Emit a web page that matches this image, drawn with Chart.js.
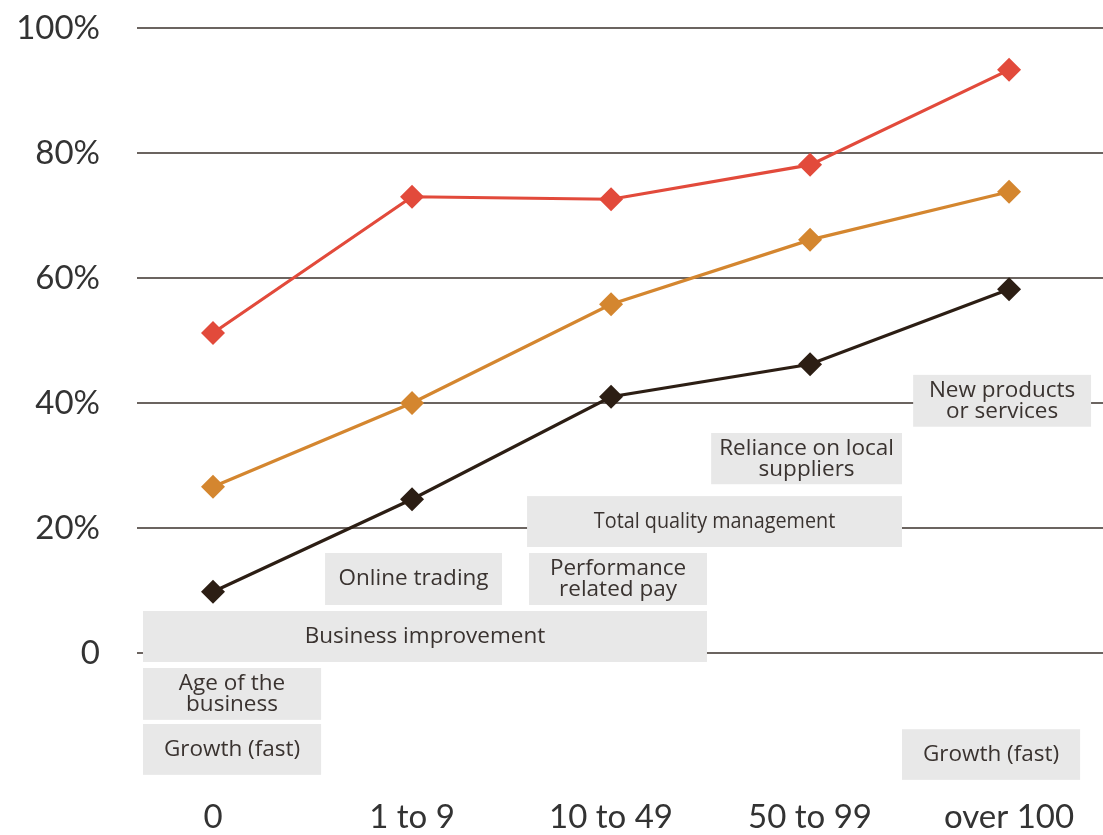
<!DOCTYPE html>
<html>
<head>
<meta charset="utf-8">
<script src="https://cdn.jsdelivr.net/npm/chart.js@4/dist/chart.umd.min.js"></script>
<style>
  html, body { margin: 0; padding: 0; background: #ffffff; }
  #wrap { width: 1103px; height: 835px; position: relative; }
</style>
</head>
<body>
<div id="wrap"><canvas id="c"></canvas></div>
<script>
// ---- data ----
const categories = ['0', '1 to 9', '10 to 49', '50 to 99', 'over 100'];
const redValues = [51.2, 73, 72.6, 78.1, 93.3];
const orangeValues = [26.6, 40, 55.8, 66.1, 73.8];
const blackValues = [9.8, 24.6, 41, 46.2, 58.2];
const yTickValues = [0, 20, 40, 60, 80, 100];

// annotation boxes (text lines + extents in axis units)
const noteTexts = [
  ['Business improvement'],
  ['Online trading'],
  ['Age of the', 'business'],
  ['Growth (fast)'],
  ['Performance', 'related pay'],
  ['Total quality management'],
  ['Reliance on local', 'suppliers'],
  ['New products', 'or services'],
  ['Growth (fast)']
];
const noteX0 = [-0.352, 0.563, -0.352, -0.352, 1.588, 1.578, 2.503, 3.518, 3.462];
const noteX1 = [2.482, 1.452, 0.543, 0.543, 2.482, 3.462, 3.462, 4.412, 4.357];
const noteY0 = [6.72, 16.0, -2.4, -11.36, 16.0, 25.1, 35.2, 44.5, -12.2];
const noteY1 = [-1.44, 7.68, -10.7, -19.5, 7.68, 16.96, 27.0, 36.2, -20.3];
const noteCondensed = [false, false, false, false, false, true, false, false, false];

const toPoints = arr => arr.map((v, i) => ({ x: i, y: v }));

const notesPlugin = {
  id: 'notes',
  beforeDatasetsDraw(chart) {
    const { ctx, scales } = chart;
    const xs = scales.x, ys = scales.y;
    ctx.save();
    for (let i = 0; i < noteTexts.length; i++) {
      const l = xs.getPixelForValue(noteX0[i]);
      const r = xs.getPixelForValue(noteX1[i]);
      const t = ys.getPixelForValue(noteY0[i]);
      const b = ys.getPixelForValue(noteY1[i]);
      ctx.fillStyle = '#e8e8e8';
      ctx.fillRect(l, t, r - l, b - t);
      ctx.fillStyle = '#3a3330';
      ctx.font = '22.5px "Open Sans", sans-serif';
      ctx.textAlign = 'center';
      ctx.textBaseline = 'middle';
      const lines = noteTexts[i];
      const lh = 21;
      const cx = (l + r) / 2, cy = (t + b) / 2;
      lines.forEach((s, k) => {
        const y = cy + (k - (lines.length - 1) / 2) * lh;
        if (noteCondensed[i]) {
          ctx.save();
          ctx.translate(cx, y);
          ctx.scale(0.88, 1);
          ctx.fillText(s, 0, 0);
          ctx.restore();
        } else {
          ctx.fillText(s, cx, y);
        }
      });
    }
    ctx.restore();
  }
};

const mk = (data, color) => ({
  data: toPoints(data),
  borderColor: color,
  backgroundColor: color,
  borderWidth: 3.2,
  pointStyle: 'rectRot',
  pointRadius: 12,
  pointHoverRadius: 12,
  pointBorderWidth: 0,
  tension: 0,
  clip: false
});

new Chart(document.getElementById('c'), {
  type: 'line',
  data: {
    datasets: [
      mk(redValues, '#e24a3b'),
      mk(orangeValues, '#d4862f'),
      mk(blackValues, '#2c1e14')
    ]
  },
  options: {
    responsive: true,
    maintainAspectRatio: false,
    animation: false,
    events: [],
    layout: { autoPadding: false, padding: { top: 28, left: 0, right: 0, bottom: 0 } },
    plugins: { legend: { display: false }, tooltip: { enabled: false } },
    scales: {
      x: {
        type: 'linear',
        min: -0.382,
        max: 4.472,
        afterBuildTicks: s => { s.ticks = categories.map((c, i) => ({ value: i })); },
        afterFit: s => { s.height = 51.4; s.paddingLeft = 0; s.paddingRight = 0; },
        grid: { display: false, drawTicks: false },
        border: { display: false },
        ticks: {
          padding: 14,
          color: '#333333',
          font: { family: 'Lato, "Open Sans", sans-serif', size: 33 },
          maxRotation: 0,
          autoSkip: false,
          callback: v => categories[v]
        }
      },
      y: {
        min: -20.9,
        max: 100,
        afterBuildTicks: s => { s.ticks = yTickValues.map(v => ({ value: v })); },
        afterFit: s => { s.width = 137; s.paddingTop = 0; s.paddingBottom = 0; },
        grid: { color: '#6b6460', lineWidth: 2, drawTicks: false },
        border: { display: false },
        ticks: {
          padding: 37,
          color: '#333333',
          font: { family: 'Lato, "Open Sans", sans-serif', size: 33 },
          callback: v => v === 0 ? '0' : v + '%'
        }
      }
    }
  },
  plugins: [notesPlugin]
});
</script>
</body>
</html>
